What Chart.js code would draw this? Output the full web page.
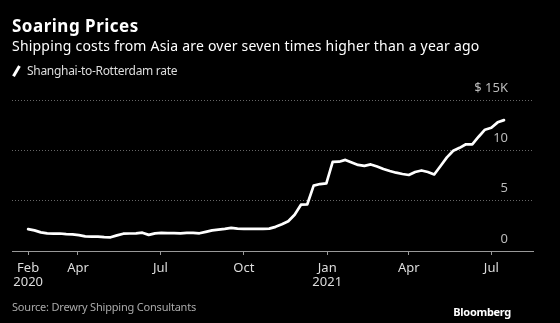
<!DOCTYPE html>
<html>
<head>
<meta charset="utf-8">
<script src="https://cdn.jsdelivr.net/npm/chart.js@4.4.1/dist/chart.umd.min.js"></script>
<style>
  body { margin: 0; background: #000; }
  #wrap { position: relative; width: 560px; height: 323px; background: #000; overflow: hidden; font-family: "Noto Sans", sans-serif; }
  #wrap canvas { position: absolute; left: 0; top: 0; }
  .t { position: absolute; white-space: nowrap; line-height: 1; }
  #title { left: 12px; top: 17px; font-size: 17px; letter-spacing: 0.5px; font-weight: bold; color: #fff; }
  #sub { left: 12px; top: 39px; font-size: 14px; letter-spacing: 0.2px; color: #fff; }
  #leg { left: 27px; top: 65px; font-size: 12px; letter-spacing: -0.3px; color: #ddd; }
  #legIcon { position: absolute; left: 15px; top: 65px; width: 2.5px; height: 12px; background: #fff; transform: rotate(30deg); }
  #src { left: 12px; top: 301px; font-size: 11px; letter-spacing: -0.2px; color: #aaa; }
  #brand { right: 49px; top: 306px; font-size: 11px; letter-spacing: -0.3px; font-weight: bold; color: #fff; }
</style>
</head>
<body>
<div id="wrap">
  <canvas id="chart" width="560" height="323"></canvas>
  <div class="t" id="title">Soaring Prices</div>
  <div class="t" id="sub">Shipping costs from Asia are over seven times higher than a year ago</div>
  <div id="legIcon"></div>
  <div class="t" id="leg">Shanghai-to-Rotterdam rate</div>
  <div class="t" id="src">Source: Drewry Shipping Consultants</div>
  <div class="t" id="brand">Bloomberg</div>
</div>
<script>
// weekly Drewry readings, Thursdays from 6 Feb 2020, in $ thousand per 40ft box
const firstWeek = '2020-02-06';
const rate = [
  2.17, 2.05, 1.85, 1.75, 1.73, 1.74, 1.68, 1.66, 1.58, 1.45,
  1.42, 1.42, 1.38, 1.36, 1.55, 1.72, 1.74, 1.76, 1.82, 1.60,
  1.75, 1.80, 1.78, 1.77, 1.76, 1.80, 1.80, 1.76, 1.90, 2.05,
  2.12, 2.20, 2.30, 2.22, 2.20, 2.20, 2.20, 2.20, 2.22, 2.40,
  2.65, 2.95, 3.60, 4.60, 4.64, 6.50, 6.65, 6.72, 8.85, 8.87,
  9.05, 8.80, 8.55, 8.45, 8.60, 8.40, 8.15, 7.95, 7.78, 7.65,
  7.55, 7.85, 8.00, 7.85, 7.60, 8.45, 9.30, 9.96, 10.25, 10.60,
  10.60, 11.35, 12.05, 12.25, 12.78, 13.00
];

const tickDates = ['2020-02-06', '2020-04-01', '2020-07-01', '2020-10-01', '2021-01-01', '2021-04-01', '2021-07-01'];
const tickLabels = [['Feb', '2020'], 'Apr', 'Jul', 'Oct', ['Jan', '2021'], 'Apr', 'Jul'];
const yTicks = [0, 5, 10, 15];
const yLabels = ['0', '5', '10', '$ 15K'];

const FONT = '"Noto Sans", sans-serif';
const origin = Date.UTC(2020, 1, 1);
const dayOf = (s) => (Date.parse(s + 'T00:00:00Z') - origin) / 86400000;

const start = dayOf(firstWeek);
const points = rate.map((v, i) => ({ x: start + 7 * i, y: v }));
const tickDays = tickDates.map(dayOf);

const yLabelPlugin = {
  id: 'yLabels',
  afterDraw(chart) {
    const { ctx, scales: { y } } = chart;
    ctx.save();
    ctx.font = '13px ' + FONT;
    ctx.fillStyle = '#bbb';
    ctx.textAlign = 'right';
    ctx.textBaseline = 'middle';
    yTicks.forEach((v, i) => {
      ctx.fillText(yLabels[i], 508, y.getPixelForValue(v) - 12);
    });
    ctx.restore();
  }
};

new Chart(document.getElementById('chart'), {
  type: 'line',
  data: {
    datasets: [{
      label: 'Shanghai-to-Rotterdam rate',
      data: points,
      borderColor: '#fff',
      borderWidth: 2.7,
      pointRadius: 0,
      tension: 0,
      borderJoinStyle: 'round',
      borderCapStyle: 'round'
    }]
  },
  options: {
    responsive: false,
    animation: false,
    layout: { padding: { left: 12, right: 27, top: 100, bottom: 27 } },
    plugins: { legend: { display: false }, tooltip: { enabled: false } },
    scales: {
      x: {
        type: 'linear',
        min: -12.8,
        max: 562,
        afterBuildTicks: (s) => { s.ticks = tickDays.map(v => ({ value: v })); },
        afterFit: (s) => { s.height = 45; },
        grid: { display: true, drawOnChartArea: false, drawTicks: true, tickLength: 4, color: '#999' },
        border: { display: true, color: '#999', width: 1 },
        ticks: {
          autoSkip: false,
          maxRotation: 0,
          padding: 6,
          color: '#ddd',
          font: { family: FONT, size: 13, lineHeight: 1.1 },
          callback: (v, i) => tickLabels[i]
        }
      },
      y: {
        position: 'right',
        min: 0,
        max: 15,
        afterBuildTicks: (s) => { s.ticks = yTicks.map(v => ({ value: v })); },
        afterFit: (s) => { s.width = 0; },
        ticks: { display: false },
        grid: { color: '#666', drawTicks: false },
        border: { display: false, dash: [1, 2] }
      }
    }
  },
  plugins: [yLabelPlugin]
});
</script>
</body>
</html>
